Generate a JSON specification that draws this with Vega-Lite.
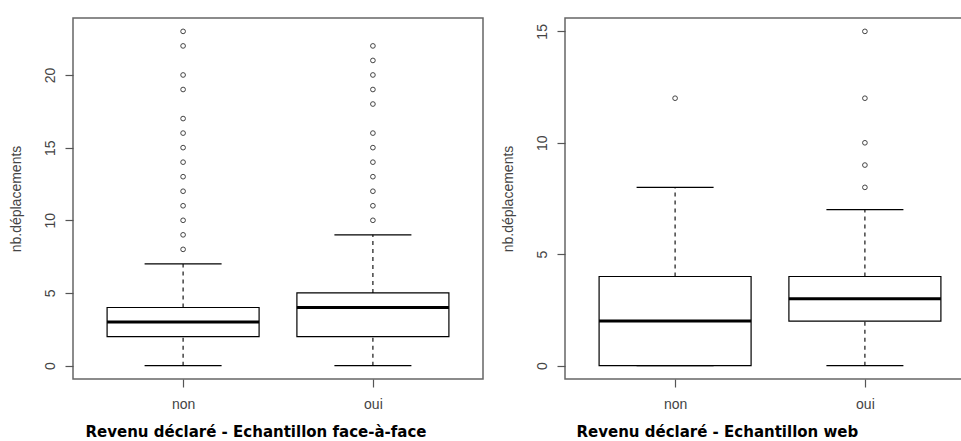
{
  "$schema": "https://vega.github.io/schema/vega-lite/v6.json",
  "background": "white",
  "padding": {"left": 8, "top": 17, "right": 0, "bottom": 0},
  "bounds": "flush",
  "spacing": 82,
  "datasets": {
    "boxA": [
      {"revenu": "non", "lower": 0, "q1": 2, "median": 3, "q3": 4, "upper": 7},
      {"revenu": "oui", "lower": 0, "q1": 2, "median": 4, "q3": 5, "upper": 9}
    ],
    "outA": [
      {"revenu": "non", "value": 8}, {"revenu": "non", "value": 9}, {"revenu": "non", "value": 10},
      {"revenu": "non", "value": 11}, {"revenu": "non", "value": 12}, {"revenu": "non", "value": 13},
      {"revenu": "non", "value": 14}, {"revenu": "non", "value": 15}, {"revenu": "non", "value": 16},
      {"revenu": "non", "value": 17}, {"revenu": "non", "value": 19}, {"revenu": "non", "value": 20},
      {"revenu": "non", "value": 22}, {"revenu": "non", "value": 23},
      {"revenu": "oui", "value": 10}, {"revenu": "oui", "value": 11}, {"revenu": "oui", "value": 12},
      {"revenu": "oui", "value": 13}, {"revenu": "oui", "value": 14}, {"revenu": "oui", "value": 15},
      {"revenu": "oui", "value": 16}, {"revenu": "oui", "value": 18}, {"revenu": "oui", "value": 19},
      {"revenu": "oui", "value": 20}, {"revenu": "oui", "value": 21}, {"revenu": "oui", "value": 22}
    ],
    "boxB": [
      {"revenu": "non", "lower": 0, "q1": 0, "median": 2, "q3": 4, "upper": 8},
      {"revenu": "oui", "lower": 0, "q1": 2, "median": 3, "q3": 4, "upper": 7}
    ],
    "outB": [
      {"revenu": "non", "value": 12},
      {"revenu": "oui", "value": 8}, {"revenu": "oui", "value": 9}, {"revenu": "oui", "value": 10},
      {"revenu": "oui", "value": 12}, {"revenu": "oui", "value": 15}
    ]
  },
  "config": {
    "view": {"stroke": "#666", "strokeWidth": 1.5},
    "tick": {"opacity": 1},
    "axis": {
      "grid": false,
      "domain": false,
      "labelFont": "Liberation Sans",
      "labelFontSize": 14,
      "labelColor": "#444",
      "tickColor": "#555",
      "tickSize": 8,
      "tickWidth": 1.2,
      "titleFont": "Liberation Sans",
      "titleFontWeight": "normal",
      "titleFontSize": 14,
      "titleColor": "#444"
    },
    "axisY": {
      "labelAngle": 270,
      "labelAlign": "center",
      "labelBaseline": "bottom",
      "labelPadding": 8,
      "titlePadding": 20
    }
  },
  "hconcat": [
    {
      "width": 410,
      "height": 361,
      "encoding": {
        "x": {
          "field": "revenu", "type": "nominal",
          "scale": {"type": "point", "domain": ["non", "oui"], "padding": 0.58},
          "axis": {
            "labelAngle": 0, "labelPadding": 10,
            "title": "Revenu déclaré - Echantillon face-à-face",
            "titleFont": "DejaVu Sans", "titleFontWeight": "bold", "titleFontSize": 15, "titleColor": "#000",
            "titleAnchor": "start", "titleAlign": "left", "titleX": 12, "titleY": 57, "titleBaseline": "alphabetic"
          }
        }
      },
      "layer": [
        {
          "data": {"name": "boxA"},
          "mark": {"type": "rule", "strokeDash": [4, 4], "color": "#000", "strokeWidth": 1.1},
          "encoding": {"y": {"field": "lower", "type": "quantitative", "scale": {"domain": [-0.92, 23.92], "nice": false, "zero": false},
            "axis": {"values": [0, 5, 10, 15, 20], "title": "nb.déplacements"}}, "y2": {"field": "q1"}}
        },
        {
          "data": {"name": "boxA"},
          "mark": {"type": "rule", "strokeDash": [4, 4], "color": "#000", "strokeWidth": 1.1},
          "encoding": {"y": {"field": "q3", "type": "quantitative"}, "y2": {"field": "upper"}}
        },
        {
          "data": {"name": "boxA"},
          "mark": {"type": "tick", "size": 77, "thickness": 1.2, "color": "#000", "opacity": 1},
          "encoding": {"y": {"field": "lower", "type": "quantitative"}}
        },
        {
          "data": {"name": "boxA"},
          "mark": {"type": "tick", "size": 77, "thickness": 1.2, "color": "#000", "opacity": 1},
          "encoding": {"y": {"field": "upper", "type": "quantitative"}}
        },
        {
          "data": {"name": "boxA"},
          "mark": {"type": "bar", "size": 152, "fill": "white", "fillOpacity": 0, "stroke": "#000", "strokeWidth": 1.2},
          "encoding": {"y": {"field": "q1", "type": "quantitative"}, "y2": {"field": "q3"}}
        },
        {
          "data": {"name": "boxA"},
          "mark": {"type": "tick", "size": 152, "thickness": 3, "color": "#000", "opacity": 1},
          "encoding": {"y": {"field": "median", "type": "quantitative"}}
        },
        {
          "data": {"name": "outA"},
          "mark": {"type": "point", "shape": "circle", "filled": false, "size": 22, "color": "#444", "strokeWidth": 1, "opacity": 1},
          "encoding": {"y": {"field": "value", "type": "quantitative"}}
        }
      ]
    },
    {
      "width": 397,
      "height": 361,
      "encoding": {
        "x": {
          "field": "revenu", "type": "nominal",
          "scale": {"type": "point", "domain": ["non", "oui"], "padding": 0.58, "range": [0, 410]},
          "axis": {
            "labelAngle": 0, "labelPadding": 10,
            "title": "Revenu déclaré - Echantillon web",
            "titleFont": "DejaVu Sans", "titleFontWeight": "bold", "titleFontSize": 15, "titleColor": "#000",
            "titleAnchor": "start", "titleAlign": "left", "titleX": 11, "titleY": 57, "titleBaseline": "alphabetic"
          }
        }
      },
      "layer": [
        {
          "data": {"name": "boxB"},
          "mark": {"type": "rule", "strokeDash": [4, 4], "color": "#000", "strokeWidth": 1.1},
          "encoding": {"y": {"field": "lower", "type": "quantitative", "scale": {"domain": [-0.6, 15.6], "nice": false, "zero": false},
            "axis": {"values": [0, 5, 10, 15], "title": "nb.déplacements"}}, "y2": {"field": "q1"}}
        },
        {
          "data": {"name": "boxB"},
          "mark": {"type": "rule", "strokeDash": [4, 4], "color": "#000", "strokeWidth": 1.1},
          "encoding": {"y": {"field": "q3", "type": "quantitative"}, "y2": {"field": "upper"}}
        },
        {
          "data": {"name": "boxB"},
          "mark": {"type": "tick", "size": 77, "thickness": 1.2, "color": "#000", "opacity": 1},
          "encoding": {"y": {"field": "lower", "type": "quantitative"}}
        },
        {
          "data": {"name": "boxB"},
          "mark": {"type": "tick", "size": 77, "thickness": 1.2, "color": "#000", "opacity": 1},
          "encoding": {"y": {"field": "upper", "type": "quantitative"}}
        },
        {
          "data": {"name": "boxB"},
          "mark": {"type": "bar", "size": 152, "fill": "white", "fillOpacity": 0, "stroke": "#000", "strokeWidth": 1.2},
          "encoding": {"y": {"field": "q1", "type": "quantitative"}, "y2": {"field": "q3"}}
        },
        {
          "data": {"name": "boxB"},
          "mark": {"type": "tick", "size": 152, "thickness": 3, "color": "#000", "opacity": 1},
          "encoding": {"y": {"field": "median", "type": "quantitative"}}
        },
        {
          "data": {"name": "outB"},
          "mark": {"type": "point", "shape": "circle", "filled": false, "size": 22, "color": "#444", "strokeWidth": 1, "opacity": 1},
          "encoding": {"y": {"field": "value", "type": "quantitative"}}
        }
      ]
    }
  ]
}
